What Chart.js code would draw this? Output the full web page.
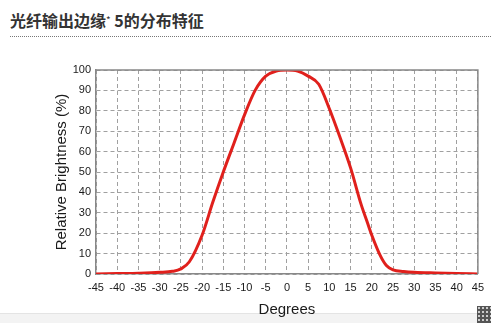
<!DOCTYPE html>
<html>
<head>
<meta charset="utf-8">
<script src="https://cdn.jsdelivr.net/npm/chart.js@4.4.1/dist/chart.umd.min.js"></script>
<style>
    body { margin: 0; background: #fff; width: 491px; height: 323px; overflow: hidden; position: relative; }
    .heading {
        position: absolute; left: 10px; top: 8px;
        font: bold 16px "Noto Sans CJK SC", sans-serif; color: #333;
        line-height: 24px; white-space: nowrap;
    }
    .heading .star { font-size: 10px; font-weight: normal; vertical-align: 3px; }
    .rule { position: absolute; left: 10px; right: 0; top: 36px; border-top: 1px dotted #777; }
    .wrap { position: absolute; left: 0; top: 40px; width: 491px; height: 283px; }
    .foot { position: absolute; left: 0; right: 0; top: 313px; bottom: 0; background: #f3f3f3; border-top: 1px solid #e4e4e4; }
    .grip { position: absolute; right: 0; top: 306px; width: 14px; height: 17px; background: #555;
        background-image: radial-gradient(#ccc 0.8px, transparent 1px); background-size: 4px 4px; }
</style>
</head>
<body>
<div class="heading">光纤输出边缘<span class="star">*</span> 5的分布特征</div>
<div class="rule"></div>
<div class="foot"></div>
<div class="grip"></div>
<div class="wrap"><canvas id="chartBeam" width="491" height="283"></canvas></div>

<script>
/* ---------------- DATA ---------------- */
const degrees = [-45, -40, -35, -30, -27, -25, -23, -20, -17.5, -15, -12.5, -10, -7.5, -5, -2.5, 0,
                 2.5, 5, 7.5, 10, 12.5, 15, 17.5, 19, 20, 22, 23.5, 25, 27.5, 30, 35, 40, 45];
const brightness = [0, 0.2, 0.4, 0.8, 1.3, 2.5, 6, 19, 35, 50, 64, 78, 90, 97, 99.5, 100,
                    99.5, 97, 93, 81, 67, 52, 34, 25, 19, 9, 4, 2, 1.2, 0.8, 0.5, 0.3, 0];
const xTicks = [-45, -40, -35, -30, -25, -20, -15, -10, -5, 0, 5, 10, 15, 20, 25, 30, 35, 40, 45];
const yTicks = [0, 10, 20, 30, 40, 50, 60, 70, 80, 90, 100];

const textColor = "#1a1a1a";
const tickFont = { family: "'Liberation Sans', Arial, sans-serif", size: 11 };
const titleFont = { family: "'Liberation Sans', Arial, sans-serif", size: 15 };

/* ---------------- CHART ---------------- */
new Chart(document.getElementById("chartBeam"), {
    type: "line",
    data: {
        datasets: [{
            label: "Relative Brightness",
            data: degrees.map((d, i) => ({ x: d, y: brightness[i] })),
            borderColor: "#e0201c",
            borderWidth: 3,
            pointRadius: 0,
            cubicInterpolationMode: "monotone",
            fill: false
        }]
    },
    options: {
        responsive: false,
        animation: false,
        devicePixelRatio: 1,
        layout: { padding: { left: 48, right: 10, top: 30, bottom: 0 } },
        plugins: { legend: { display: false }, tooltip: { enabled: false } },
        scales: {
            x: {
                type: "linear",
                min: -45, max: 45,
                afterBuildTicks: s => { s.ticks = xTicks.map(v => ({ value: v })); },
                afterFit: s => { s.height = 49; },
                grid: { color: "#a0a0a0", lineWidth: 1, drawTicks: false },
                border: { display: true, color: "#888", width: 1.5, dash: [4, 3] },
                ticks: { color: textColor, font: tickFont, padding: 7, maxRotation: 0, autoSkip: false },
                title: { display: true, text: "Degrees", color: textColor, font: titleFont, padding: { top: 0, bottom: 4 } }
            },
            y: {
                min: 0, max: 100,
                afterBuildTicks: s => { s.ticks = yTicks.map(v => ({ value: v })); },
                afterFit: s => { s.width = 48; },
                grid: { color: "#a0a0a0", lineWidth: 1, drawTicks: false },
                border: { display: true, color: "#888", width: 1.5, dash: [4, 3] },
                ticks: { color: textColor, font: tickFont, padding: 5 },
                title: { display: true, text: "Relative Brightness (%)", color: textColor, font: titleFont, padding: { top: 5, bottom: 0 } }
            }
        }
    },
    plugins: [{
        /* closed frame on top and right like the original plot */
        id: "frame",
        afterDatasetsDraw(chart) {
            const a = chart.chartArea, ctx = chart.ctx;
            ctx.save();
            ctx.strokeStyle = "#888";
            ctx.lineWidth = 1.5;
            ctx.beginPath();
            ctx.moveTo(a.left, a.top);
            ctx.lineTo(a.right, a.top);
            ctx.lineTo(a.right, a.bottom);
            ctx.stroke();
            ctx.restore();
        }
    }]
});
</script>
</body>
</html>
